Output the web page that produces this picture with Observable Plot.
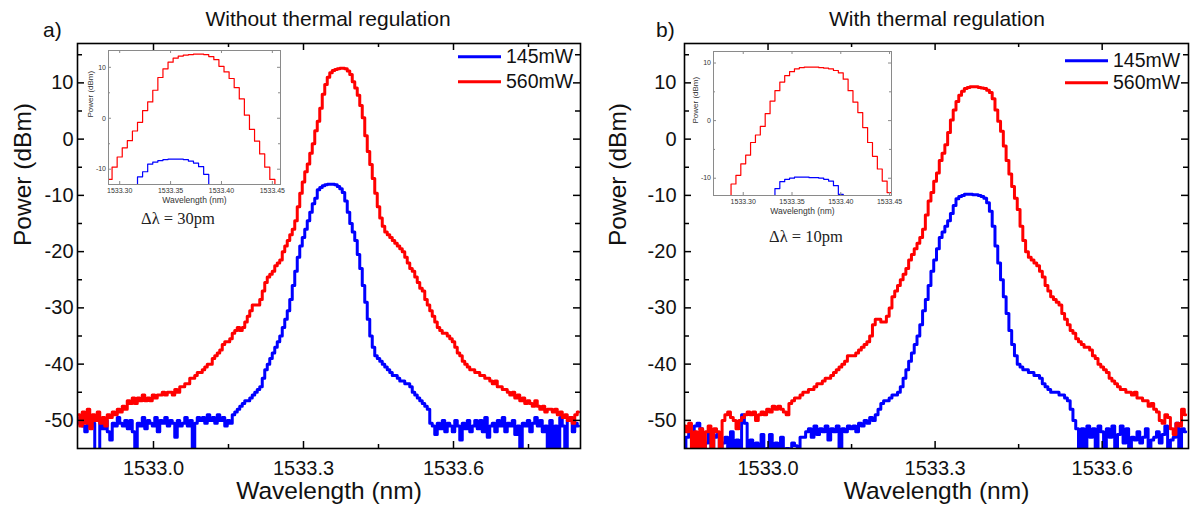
<!DOCTYPE html>
<html><head><meta charset="utf-8">
<script src="https://cdn.jsdelivr.net/npm/d3@7"></script>
<script src="https://cdn.jsdelivr.net/npm/@observablehq/plot@0.6"></script>
<style>
body{margin:0;background:#fff;}
#root{position:relative;width:1190px;height:514px;overflow:hidden;background:#fff;font-family:"Liberation Sans",Arial,sans-serif;color:#000;}
.abs{position:absolute;white-space:nowrap;line-height:1;}
.title{font-size:21px;transform:translate(-50%,-50%);color:#111;}
.tag{font-size:21px;transform:translate(0,-50%);color:#111;}
.dl{font-family:"Liberation Serif","Times New Roman",serif;font-size:16.5px;transform:translate(-50%,-50%);color:#222;}
.leg{font-size:19.5px;display:flex;align-items:center;transform:translate(0,-50%);color:#111;}
.sw{display:inline-block;height:3px;width:43px;margin-right:5px;}
</style></head>
<body><div id="root"></div>
<script>
// ---- sampling grid of the spectra (OSA export: start wavelength + step, nm) ----
const STEP = 0.005;
const startA = 1532.85;
const startB = 1532.85;

// ---- panel a) Without thermal regulation : power (dBm) ----
const a145 = [
-50.5,-49.5,-51,-52,-50,-51,-50.5,-58,-57,-50,
-51.5,-50,-52,-53.5,-50.5,-51,-49.5,-50.5,-51,-50,
-51.5,-50,-52,-58,-50.5,-51,-49.5,-51.5,-50,-50.5,
-51,-49.5,-52,-50,-50.5,-49.5,-51,-50,-50.5,-53,
-50,-51,-50.5,-49.5,-51,-50,-58,-50.5,-49.5,-50,
-49.5,-50.5,-49,-50,-49.5,-50.5,-49,-50,-49.5,-51,
-50,-50.5,-49,-48.5,-48,-47.5,-47,-46.5,-46.5,-46,
-45.5,-45,-44.5,-44,-42.5,-41,-40,-39,-38,-37,
-36,-35,-33.5,-32,-30.5,-28.5,-26,-23.5,-21,-19,
-17.5,-16,-14.5,-13,-11.5,-10.5,-9,-8.6,-8.3,-8.1,
-8,-8,-8,-8.1,-8.4,-8.8,-9.5,-11,-13,-15,
-16.5,-18,-20.5,-23,-26,-29,-32,-35,-37,-38.5,
-39,-39.5,-40,-40.5,-41,-41.5,-42,-42,-42.5,-43,
-43,-43.5,-43.5,-44,-45,-45.5,-46,-46.5,-47,-47.5,
-48,-50.5,-51,-52.5,-50.5,-51.5,-50,-52,-50.5,-51,
-52,-50,-51,-53.5,-50.5,-51.5,-50,-52,-51,-50,
-51.5,-50,-52,-49.5,-53,-51,-50.5,-52,-50,-51,
-49.5,-52,-50.5,-51,-50,-52.5,-51,-58,-50.5,-51,
-50,-52,-50.5,-49.5,-51,-50,-52,-51,-58,-50,
-58,-51,-58,-49.5,-51,-58,-50,-49.5,-52,-50.5,
-51];
const a560 = [
-49,-51,-48.5,-50.5,-48,-51.5,-49,-50,-48.5,-50.5,
-49.5,-51,-49,-49.5,-48.5,-49,-48,-48.5,-47.5,-48,
-46.5,-47,-46,-47,-46,-46.5,-45.5,-46.5,-46,-46.5,
-45.5,-46,-45.5,-45.5,-45,-45.5,-45,-45,-45.5,-44.5,
-45,-44,-44,-43.5,-43.5,-42.5,-42.5,-42,-41.5,-41.5,
-41,-40.5,-40,-40,-39,-38.5,-38,-37.5,-36.5,-36,
-36,-35.5,-34.5,-34,-33.5,-34,-33.5,-32.5,-31.5,-30.5,
-29.5,-29.5,-29.5,-28.5,-27,-25.5,-24.5,-24,-23.5,-22.5,
-22,-21.5,-20,-19,-18,-17,-16,-14.5,-12,-9.6,
-7.6,-5.8,-4.4,-2.5,-0.8,1.5,3.2,5.5,8,9.7,
11,11.8,12.2,12.4,12.5,12.6,12.6,12.5,12.1,11.5,
10.2,9.1,7.8,6,3.8,0.6,-2.2,-4.5,-7,-9.6,
-12,-14,-15.5,-16.5,-17,-17.5,-18,-18.5,-19,-19.5,
-20,-21,-22,-23,-23.5,-24.5,-25.5,-26.5,-27,-28.5,
-29.5,-30.5,-31.5,-32.5,-33.5,-34,-34.5,-34.5,-35,-35.5,
-36,-37,-38,-38.5,-39.5,-40,-40.5,-41,-41,-41.5,
-41.5,-42,-42,-42.5,-42.5,-43,-43.5,-43,-44,-44,
-44.5,-44.5,-45,-45.5,-45,-46,-45.5,-46.5,-46,-47,
-46.5,-47,-47.5,-46.5,-47.5,-48,-47.5,-48.5,-48,-48,
-48.5,-48,-49,-48.5,-49.5,-49,-50,-49.5,-50.5,-49,
-48.5];

// ---- panel b) With thermal regulation : power (dBm) ----
const b145 = [
-58,-53,-52,-58,-51,-50.5,-51.5,-58,-54,-52,
-58,-53,-52.5,-58,-54,-53,-58,-52,-58,-53.5,
-58,-49,-50.5,-58,-53.5,-58,-54,-58,-52.5,-58,
-55,-52.5,-58,-54,-58,-53,-58,-55,-58,-54,
-54.5,-58,-53,-53,-52,-51.5,-53,-51,-52.5,-51.5,
-52,-51,-53.5,-51.5,-52,-51,-58,-51.5,-52,-51,
-51.5,-51,-52,-50.5,-51,-50,-50.5,-49.5,-50,-49,
-48,-47,-46.5,-46.5,-46,-45.5,-45.5,-45,-44,-42.5,
-41,-39.5,-38,-36.5,-35,-33,-30.5,-28.5,-26,-23.5,
-21.5,-19.5,-17.5,-16.5,-15.5,-14.5,-13.2,-11.8,-10.6,-10.2,
-10,-9.8,-9.8,-9.8,-9.9,-9.9,-10,-10.2,-10.5,-11.3,
-12.8,-15.5,-19,-22,-25,-28,-31,-34,-36.5,-38.5,
-40,-40.5,-41,-41,-41.5,-41.5,-42,-42,-42.5,-43.5,
-44,-44.5,-45,-45,-45,-45.5,-45.5,-46,-46.5,-48,
-50,-51.5,-58,-51.5,-58,-51,-53,-51.5,-58,-51,
-52,-58,-51.5,-53,-51,-58,-52.5,-51,-54,-51.5,
-58,-53,-53.5,-52,-54,-53,-51.5,-58,-53.5,-53,
-52,-54,-52.5,-51,-58,-53.5,-53,-50.5,-58,-51.5,
-52];
const b560 = [
-51,-52,-50.5,-55.5,-52,-58,-51.5,-57,-52,-51,
-58,-51.5,-52,-56,-50,-49,-48.5,-49.5,-50,-51.5,
-50,-49.5,-49,-48.5,-49,-48.5,-50,-49,-48.5,-49,
-48,-48.5,-47.5,-48,-47.5,-48,-48.5,-49,-47,-46.5,
-46,-46,-45.5,-45,-45,-44.5,-44.5,-44,-43.5,-43.5,
-43,-42.5,-42.5,-42,-41.5,-41,-40.5,-40,-39.5,-38.5,
-38.5,-38.5,-38,-37.5,-37,-36.5,-36,-35,-33,-32,
-32,-32.5,-32.5,-31.5,-30,-28,-27,-26,-25,-24,
-23,-21.5,-20.5,-19.5,-18.5,-17.5,-16,-13.5,-11,-9.5,
-7.5,-6,-3.8,-2.5,-1,1.2,3.4,5.2,6.7,7.8,
8.5,9,9.2,9.3,9.3,9.3,9.2,9.1,9,8.7,
8.3,7.2,5.2,3.2,1.4,-1.2,-3.8,-6.2,-8.4,-10.5,
-12.5,-15.5,-18,-20,-21,-21.5,-22,-22.5,-23.5,-24.5,
-26,-27,-28,-28.5,-29,-29.5,-31,-32,-33,-34,
-34.5,-35.5,-36,-36.5,-37,-37,-37.5,-38.5,-39,-40,
-40.5,-41,-41.5,-42.5,-43,-43.5,-44,-44.5,-44.5,-45,
-45,-45.5,-45,-46,-46,-46.5,-46.5,-47.5,-47,-48,
-48.5,-50,-50.5,-49,-49.5,-51.5,-52.5,-50.5,-51,-48,
-49];

// ---- ticks and labels ----
const xMajor = [1533.0, 1533.3, 1533.6];
const xMinorA = [1533.15, 1533.45, 1533.75];
const xMinorB = [1533.15, 1533.45];
const yMajor = [-50, -40, -30, -20, -10, 0, 10];
const yMinor = [-45, -35, -25, -15, -5, 5, 15];
const ixMajor = [1533.30, 1533.35, 1533.40, 1533.45];
const iyMajor = [-10, 0, 10];
const iyMinor = [-5, 5];
const seriesNames = ["145mW", "560mW"];
const seriesColors = ["#0000ff", "#ff0000"];
const panelTags = ["a)", "b)"];
const panelTitles = ["Without thermal regulation", "With thermal regulation"];
const insetNotes = ["\u0394\u03bb = 30pm", "\u0394\u03bb = 10pm"];

const FONT = "Liberation Sans, Arial, Helvetica, sans-serif";
const root = document.getElementById("root");
const toRows = (start, arr) => arr.map((p, i) => ({w: start + i * STEP, p}));

const panels = [
  {start: startA, s145: a145, s560: a560, left: 0, ml: 77, mr: 15, yPad: 4,
   xDomain: [1532.848, 1533.854], xMinor: xMinorA,
   inset: {left: 80, top: 45, w: 210, h: 165, mr: 10, mb: 26, xDomain: [1533.289, 1533.458], yDomain: [-13, 13.3]},
   tag: [43, 29], title: [328, 18], note: [178, 219],
   legend: {x: 458, y: [57, 82]}},
  {start: startB, s145: b145, s560: b560, left: 595, ml: 89, mr: 2, yPad: 8,
   xDomain: [1532.85, 1533.755], xMinor: xMinorB,
   inset: {left: 685, top: 46, w: 220, h: 175, mr: 14, mb: 26, xDomain: [1533.2695, 1533.452], yDomain: [-13, 12]},
   tag: [656, 29], title: [937, 18], note: [806, 237],
   legend: {x: 1065, y: [61, 83]}}
];

function place(el, left, top) {
  el.style.position = "absolute";
  el.style.left = left + "px";
  el.style.top = top + "px";
  root.appendChild(el);
}
function addDiv(cls, html, x, y) {
  const d = document.createElement("div");
  d.className = "abs " + cls;
  d.innerHTML = html;
  d.style.left = x + "px";
  d.style.top = y + "px";
  root.appendChild(d);
  return d;
}
// inward tick marks on all four sides: a tick spanning the frame, inset so only n px remain
function frameTicks(values, side, n, W, H, style) {
  if (side === "bottom") return Plot.tickX(values, {x: d => d, insetTop: H - n, ...style});
  if (side === "top") return Plot.tickX(values, {x: d => d, insetBottom: H - n, ...style});
  if (side === "left") return Plot.tickY(values, {y: d => d, insetRight: W - n, ...style});
  return Plot.tickY(values, {y: d => d, insetLeft: W - n, ...style});
}

panels.forEach((cfg, k) => {
  const d145 = toRows(cfg.start, cfg.s145);
  const d560 = toRows(cfg.start, cfg.s560);
  const W = 595 - cfg.ml - cfg.mr, H = 514 - 43 - 66;
  const ts = {stroke: "#000", strokeWidth: 1.5};
  const tickMarks = [];
  for (const side of ["bottom", "top"]) {
    tickMarks.push(frameTicks(xMajor, side, 7, W, H, ts), frameTicks(cfg.xMinor, side, 4, W, H, ts));
  }
  for (const side of ["left", "right"]) {
    tickMarks.push(frameTicks(yMajor, side, 7, W, H, ts), frameTicks(yMinor, side, 5, W, H, ts));
  }
  const main = Plot.plot({
    width: 595, height: 514,
    marginLeft: cfg.ml, marginRight: cfg.mr, marginTop: 43, marginBottom: 66,
    x: {domain: cfg.xDomain, axis: null},
    y: {domain: [-55, 17], axis: null},
    style: {fontFamily: FONT, fontSize: "20px", color: "#000", background: "transparent", overflow: "visible"},
    marks: [
      Plot.line(d145, {x: "w", y: "p", stroke: seriesColors[0], strokeWidth: 3, curve: "step", clip: true}),
      Plot.line(d560, {x: "w", y: "p", stroke: seriesColors[1], strokeWidth: 3, curve: "step", clip: true}),
      ...tickMarks,
      Plot.frame({stroke: "#000", strokeWidth: 1.6}),
      Plot.axisX(xMajor, {tickSize: 0, tickPadding: 12, tickFormat: d => d.toFixed(1), label: null, fill: "#111"}),
      Plot.axisY(yMajor, {tickSize: 0, tickPadding: cfg.yPad, tickFormat: d => String(d), label: null, fill: "#111"}),
      Plot.text(["Wavelength (nm)"], {text: d => d, frameAnchor: "bottom", dy: 50, fontSize: 24.5, fill: "#111"}),
      Plot.text(["Power (dBm)"], {text: d => d, frameAnchor: "left", rotate: -90, dx: -(cfg.ml - 23), fontSize: 24.5, fill: "#111"})
    ]
  });
  place(main, cfg.left, 0);

  const ins = cfg.inset;
  const iW = ins.w - 28 - ins.mr, iH = ins.h - 5 - ins.mb;
  const its = {stroke: "#8a8a8a", strokeWidth: 1};
  const iMarks = [];
  for (const side of ["bottom", "top"]) iMarks.push(frameTicks(ixMajor, side, 3, iW, iH, its));
  for (const side of ["left", "right"]) {
    iMarks.push(frameTicks(iyMajor, side, 3, iW, iH, its), frameTicks(iyMinor, side, 2, iW, iH, its));
  }
  const inset = Plot.plot({
    width: ins.w, height: ins.h,
    marginLeft: 28, marginRight: ins.mr, marginTop: 5, marginBottom: ins.mb,
    x: {domain: ins.xDomain, axis: null},
    y: {domain: ins.yDomain, axis: null},
    style: {fontFamily: FONT, fontSize: "7px", color: "#333", background: "transparent", overflow: "visible"},
    marks: [
      Plot.line(d560, {x: "w", y: "p", stroke: seriesColors[1], strokeWidth: 1.2, curve: "step", clip: true}),
      Plot.line(d145, {x: "w", y: "p", stroke: seriesColors[0], strokeWidth: 1.2, curve: "step", clip: true}),
      ...iMarks,
      Plot.frame({stroke: "#8a8a8a", strokeWidth: 1}),
      Plot.axisX(ixMajor, {tickSize: 0, tickPadding: 4, tickFormat: d => d.toFixed(2), label: null, fill: "#333"}),
      Plot.axisY(iyMajor, {tickSize: 0, tickPadding: 2.5, tickFormat: d => String(d), label: null, fill: "#333"}),
      Plot.text(["Wavelength (nm)"], {text: d => d, frameAnchor: "bottom", dy: 18, fontSize: 8.5, fill: "#333"}),
      Plot.text(["Power (dBm)"], {text: d => d, frameAnchor: "left", rotate: -90, dx: -18, fontSize: 8, fill: "#333"})
    ]
  });
  place(inset, ins.left, ins.top);

  addDiv("tag", panelTags[k], cfg.tag[0], cfg.tag[1]);
  addDiv("title", panelTitles[k], cfg.title[0], cfg.title[1]);
  addDiv("dl", insetNotes[k], cfg.note[0], cfg.note[1]);
  seriesNames.forEach((name, j) => {
    addDiv("leg", `<span class="sw" style="background:${seriesColors[j]}"></span><span>${name}</span>`, cfg.legend.x, cfg.legend.y[j]);
  });
});
</script>
</body></html>
